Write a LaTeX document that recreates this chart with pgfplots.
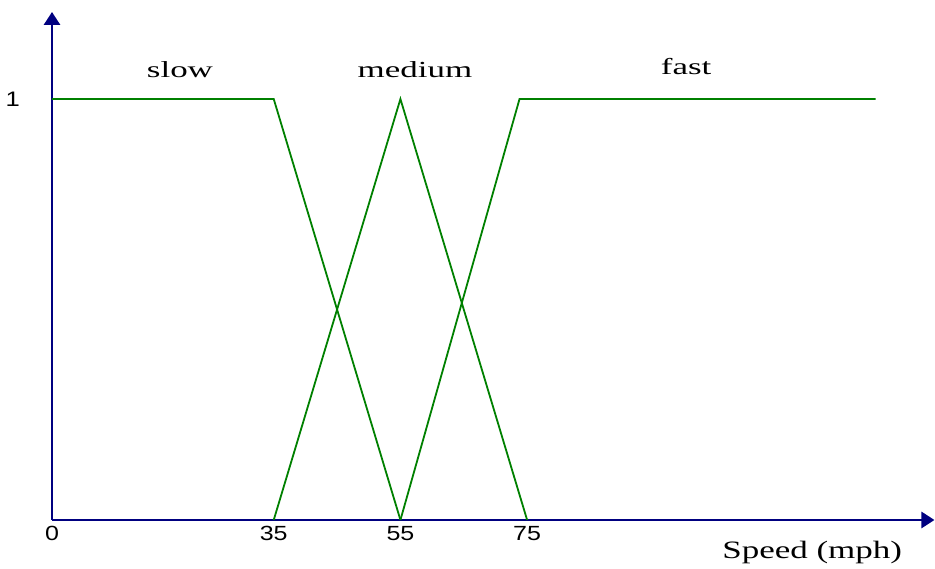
\documentclass[border=0pt]{standalone}
\usepackage{pgfplots}
\pgfplotsset{compat=1.18}
\usetikzlibrary{arrows.meta}
\usepackage{fontspec}
\setmainfont{Liberation Serif}
\newfontfamily\arialf{Liberation Sans}
\definecolor{axnavy}{HTML}{000080}
\definecolor{lgreen}{HTML}{008000}
\begin{document}
\begin{tikzpicture}
\path[use as bounding box] (-52pt,-49pt) rectangle (883pt,520pt);
\begin{axis}[
  anchor=origin, at={(0pt,0pt)},
  x=6.335pt, y=421pt,
  xmin=0, xmax=139.3, ymin=0, ymax=1.2067,
  axis lines=left,
  axis line style={axnavy, line width=2.8pt, -{Triangle[length=13pt,width=16pt]}},
  clip=false,
  xtick={0,35,55,75}, ytick={1},
  major tick length=0pt,
  tick style={draw=none},
  /pgf/number format/assume math mode=true,
  xticklabel style={anchor=north, inner sep=0pt, yshift=-6pt, font=\arialf\fontsize{20.5}{22}\selectfont},
  yticklabel style={anchor=east, inner sep=0pt, xshift=-32pt, font=\arialf\fontsize{21}{22}\selectfont},
  xticklabel={\scalebox{1.22}[1]{\pgfmathprintnumber{\tick}}},
  yticklabel={\scalebox{1.22}[1]{\pgfmathprintnumber{\tick}}},
]
\addplot[lgreen, line width=1.8pt] coordinates {(0,1) (35,1) (55,0)};
\addplot[lgreen, line width=1.8pt] coordinates {(35,0) (55,1) (75,0)};
\addplot[lgreen, line width=1.8pt] coordinates {(55,0) (73.8,1) (130,1)};
\node[font=\fontsize{23}{26}\selectfont] at (axis cs:20.2,1.069) {\scalebox{1.52}[1]{slow}};
\node[font=\fontsize{23}{26}\selectfont] at (axis cs:57.3,1.069) {\scalebox{1.52}[1]{medium}};
\node[font=\fontsize{23}{26}\selectfont] at (axis cs:100.1,1.076) {\scalebox{1.52}[1]{fast}};
\node[font=\fontsize{25}{28}\selectfont] at (axis cs:120,-0.076) {\scalebox{1.4}[1]{Speed (mph)}};
\end{axis}
\end{tikzpicture}
\end{document}
